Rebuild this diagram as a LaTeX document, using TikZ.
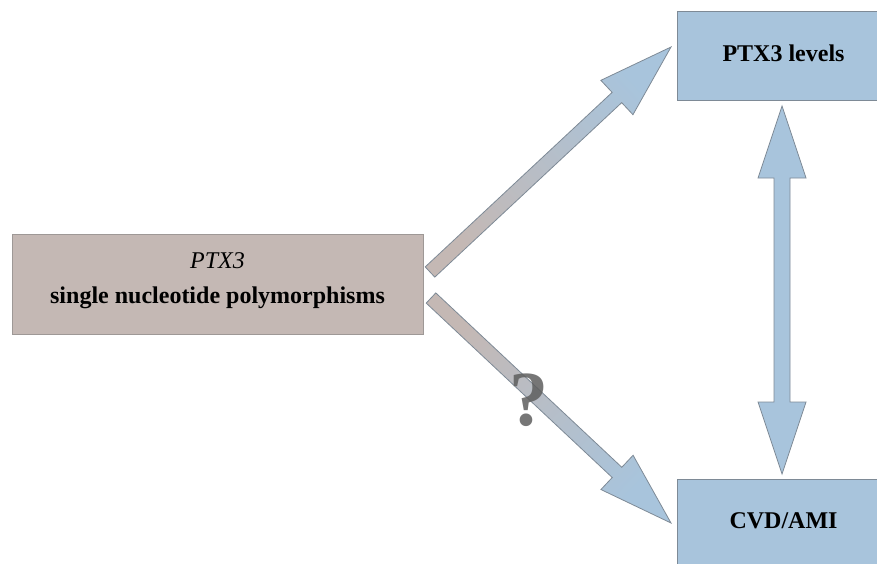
\documentclass[tikz,border=0pt]{standalone}
\usepackage{fontspec}
\setmainfont{Liberation Serif}
\usetikzlibrary{calc}

\definecolor{snpfill}{HTML}{C4B8B4}
\definecolor{snpline}{HTML}{9E9896}
\definecolor{bluefill}{HTML}{A8C4DC}
\definecolor{blueline}{HTML}{7E8A96}
\definecolor{qmark}{HTML}{5E5E5E}

\tikzset{
  box/.style={draw, line width=0.9pt, inner sep=0pt, align=center,
    font=\fontsize{24}{35}\selectfont\bfseries},
  snpbox/.style={box, fill=snpfill, draw=snpline},
  bluebox/.style={box, fill=bluefill, draw=blueline},
  gradarrow/.style={draw=blueline, line width=0.8pt,
    bottom color=snpfill, top color=bluefill},
  flatarrow/.style={draw=blueline, line width=0.8pt, fill=bluefill},
  qlabel/.style={text=qmark, text opacity=0.85, inner sep=0pt,
    font=\fontsize{78}{78}\selectfont\bfseries},
}

% single block arrow: tail, tip, shaft half-width, head half-width, head length, shading angle
\newcommand\blockarrow[6]{%
  \coordinate (ba-n) at ($(#2)!#5!(#1)$);
  \path[gradarrow, shading angle=#6]
    ($(#1)!#3!-90:(#2)$) -- ($(ba-n)!#3!-90:(#2)$) -- ($(ba-n)!#4!-90:(#2)$)
    -- (#2)
    -- ($(ba-n)!#4!90:(#2)$) -- ($(ba-n)!#3!90:(#2)$) -- ($(#1)!#3!90:(#2)$)
    -- cycle;
}

% double block arrow: tip A, tip B, shaft half-width, head half-width, head length
\newcommand\doubleblockarrow[5]{%
  \coordinate (da-a) at ($(#1)!#5!(#2)$);
  \coordinate (da-b) at ($(#2)!#5!(#1)$);
  \path[flatarrow]
    (#1) -- ($(da-a)!#4!90:(#2)$) -- ($(da-a)!#3!90:(#2)$)
    -- ($(da-b)!#3!-90:(#1)$) -- ($(da-b)!#4!-90:(#1)$)
    -- (#2)
    -- ($(da-b)!#4!90:(#1)$) -- ($(da-b)!#3!90:(#1)$)
    -- ($(da-a)!#3!-90:(#2)$) -- ($(da-a)!#4!-90:(#2)$)
    -- cycle;
}

\begin{document}
\begin{tikzpicture}[x=1pt, y=-1pt]
  \useasboundingbox (0,0) rectangle (877,563);
  \clip (0,0) rectangle (877,563);

  % boxes
  \node[snpbox, minimum width=411pt, minimum height=100pt,
        text height=51pt, text depth=13pt] (snp) at (217.5,284)
        {{\mdseries\itshape PTX3}\\single nucleotide polymorphisms};
  \node[bluebox, minimum width=213pt, minimum height=89pt,
        text height=16pt, text depth=5pt] (lev) at (783.5,55.5) {PTX3 levels};
  \node[bluebox, minimum width=213pt, minimum height=89pt,
        text height=16pt, text depth=7pt] (cvd) at (783.5,523.5) {CVD/AMI};

  % arrow ends
  \coordinate (t1) at (430,272);
  \coordinate (h1) at (671,47);
  \coordinate (t2) at (431,298);
  \coordinate (h2) at (671,523);
  \coordinate (va) at (782,106);
  \coordinate (vb) at (782,474);

  % connectors
  \blockarrow{t1}{h1}{7pt}{23.5pt}{74pt}{-47}
  \blockarrow{t2}{h2}{7pt}{23.5pt}{74pt}{-133}
  \doubleblockarrow{va}{vb}{8pt}{24pt}{72pt}

  % uncertain association
  \node[qlabel, anchor=base] (q) at (529,425) {?};
\end{tikzpicture}
\end{document}
